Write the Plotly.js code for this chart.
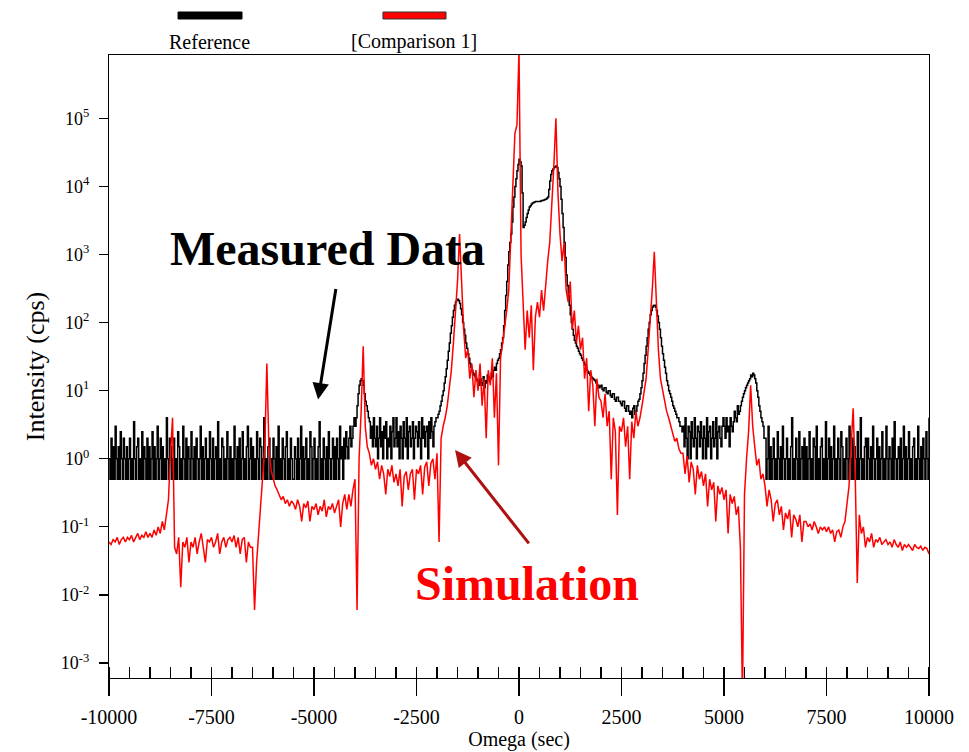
<!DOCTYPE html>
<html>
<head>
<meta charset="utf-8">
<script src="https://cdn.plot.ly/plotly-3.0.1.min.js"></script>
<style>html,body{margin:0;padding:0;background:#fff}#chart{width:969px;height:752px}</style>
</head>
<body>
<div id="chart"></div>
<script>
// Omega grids (sec)
const omegaStart = -10000;
const referenceStep = 25;
const comparisonStep = 50;

// Reference (measured) intensity, cps  (one row = 500 sec)
const referenceCps = [
1,0.5,2,0.5,1.5,0.5,3,1,0.5,1.5,0.5,2.5,1,0.5,2,1,0.5,1.5,0.5,1,
2,0.5,1,0.5,3.5,1,0.5,1.5,2,0.5,1,0.5,2.5,0.5,1.5,1,0.5,2,0.5,1.5,
0.5,1,2.5,0.5,1.5,0.5,1,3,0.5,1,2,0.5,1.5,0.5,1,0.5,4,1,0.5,2,
1.5,0.5,1,2,0.5,1,0.5,2.5,1.5,0.5,1,0.5,3,1,0.5,2,0.5,1.5,1,0.5,
2.5,1,0.5,1.5,0.5,2,1,0.5,1,3,0.5,1.5,0.5,1,2,0.5,1,0.5,2.5,1,
0.5,2,0.5,1,1.5,0.5,3.5,0.5,1,0.5,2,1.5,0.5,1,0.5,2.5,1,0.5,1.5,0.5,
1,0.5,3,1,0.5,1.5,0.5,2,0.5,1,2.5,0.5,1,0.5,1.5,3,0.5,1,2,0.5,
1.5,0.5,1,0.5,2.5,1,0.5,2,1.5,0.5,1,4,0.5,1,0.5,1.5,2,0.5,1,0.5,
2,1,0.5,1.5,0.5,3,0.5,1,0.5,2,1,0.5,1.5,2.5,0.5,1,0.5,2,1,0.5,
0.5,1.5,1,0.5,2,0.5,1,3,0.5,1.5,0.5,1,2,0.5,1,0.5,2.5,1.5,0.5,1,
2,0.5,1,0.5,1.5,3.5,0.5,1,0.5,2,1,0.5,1.5,0.5,2.5,1,0.5,1,2,0.5,
1.5,0.5,2,1,0.5,3,1,1.5,0.5,2,1,2.5,1.5,1,2,3,1.5,2,3,4,
3,4,6,9,12,14,15,14,12,9,7,6,5,4,3.5,2,3,1.5,4,2,
1.5,3,1,2,4,1.5,2.5,1,3,2,3.5,1,2,1.5,3,1,2.5,4,1.5,2,
4,1.5,2.5,1,3,2,1,3.5,2,1.5,4,1,2.5,3,1.5,2,3.5,1,2,3,
2.5,1.5,3.5,2,1,4,2,3,1.5,2.5,3,1,3.5,2,4,2.5,1.5,3,3.5,4,
4,4.5,5,6,7,8.5,10,13,16,21,28,38,50,70,90,120,150,180,200,215,
220,210,190,160,130,100,80,65,50,42,35,30,25,22,20,18,17,16,15,14,
14,12,15,13,12,16,11,14,13,17,16,14,15,18,16,20,22,20,25,28,
30,35,40,50,60,90,150,250,400,700,1100,1500,2000,3000,5000,7000,10000,13000,17000,21000,
25000,23000,20000,8000,2500,2700,3000,3500,4000,4500,5000,5200,5500,5700,5800,5900,6000,6000,6000,6000,
6000,6100,6200,6200,6300,6400,6500,6700,7000,9000,12000,15000,17000,18000,19000,19500,20000,19000,16000,13000,
10000,6500,4000,2500,1500,900,500,350,250,180,130,100,80,65,55,50,45,42,38,35,
33,30,28,26,24,22,20,19,18,17,16,15.5,15,14.5,14,13,12,12,11,11.5,
12,10.5,10,11,11,9.5,9,10,10,8.5,8,9,9,7.5,7,8,8,7,7,6.5,
6,7,7,5.5,5,6,6,5,4.5,5,4,5.5,6,4.5,5,6,7,7.5,9,11,
14,18,25,33,45,60,80,100,130,150,170,178,180,170,150,125,100,80,60,45,
35,28,22,18,14,12,10,9,8,7,6,5.5,5,4.5,4,4,3.5,3,3,2.5,
3,1.5,4,2,1,3,2.5,1,3.5,2,1.5,4,2,1,3,2.5,1.5,3.5,2,1,
3,2,1,4,1.5,2.5,3,1,2,3.5,1.5,2,4,1,2.5,3,2,1.5,3,4,
3,2,4,2.5,3,1.5,4,3,2.5,3.5,5,4,3.5,6,4.5,5,6,7,8,9,
10,11,12,13,14,15,17,16,18,17,15,13,10,8,6,5,4,3.5,3,2,
2,0.5,1,3,0.5,1.5,0.5,1,2,0.5,1,0.5,2.5,1,0.5,1.5,0.5,3,1,0.5,
1,2,0.5,1,0.5,1.5,4,0.5,1,0.5,2,1,0.5,2.5,0.5,1,1.5,0.5,2,0.5,
1.5,0.5,1,2.5,0.5,1,0.5,2,1.5,0.5,3,0.5,1,0.5,1.5,2,0.5,1,0.5,3.5,
0.5,1,2,0.5,1.5,0.5,1,3,0.5,1,0.5,2,1,0.5,2.5,1.5,0.5,1,0.5,2,
1,0.5,3,1,0.5,2,0.5,1.5,1,0.5,2.5,0.5,1,4,0.5,1,0.5,1.5,2,0.5,
2,1,0.5,1.5,0.5,3,1,0.5,1,2,0.5,1.5,0.5,1,2.5,0.5,1,0.5,3,1,
0.5,1.5,1,0.5,2,0.5,3.5,1,0.5,1,1.5,0.5,2,0.5,1,3,0.5,1.5,0.5,1,
2.5,0.5,1,0.5,1.5,2,0.5,1,0.5,3,1,0.5,1.5,0.5,2,1,0.5,2.5,1,0.5,
4
];

// [Comparison 1] (simulation) intensity, cps  (one row = 500 sec)
const comparisonCps = [
0.06,0.055,0.065,0.06,0.07,0.055,0.065,0.07,0.06,0.07,
0.065,0.075,0.06,0.07,0.08,0.065,0.075,0.07,0.085,0.07,
0.08,0.07,0.09,0.075,0.1,0.08,0.12,0.09,0.15,0.25,
1.2,4,0.05,0.04,0.07,0.013,0.06,0.05,0.07,0.03,
0.06,0.05,0.07,0.04,0.06,0.08,0.05,0.03,0.065,0.06,
0.07,0.05,0.06,0.08,0.04,0.06,0.07,0.05,0.065,0.07,
0.06,0.075,0.05,0.07,0.04,0.065,0.07,0.03,0.06,0.05,
0.05,0.006,0.03,0.08,0.3,0.6,1.5,25,1.5,0.7,
0.5,0.4,0.35,0.3,0.25,0.28,0.22,0.25,0.2,0.24,
0.22,0.18,0.25,0.2,0.12,0.22,0.19,0.24,0.12,0.2,
0.18,0.22,0.15,0.2,0.17,0.25,0.14,0.2,0.18,0.22,
0.16,0.2,0.25,0.1,0.22,0.3,0.18,0.3,0.2,0.35,
0.5,0.006,1,5,45,3,1.5,1.2,0.8,1,
0.7,0.9,0.5,0.8,0.6,0.3,0.7,0.55,0.8,0.45,
0.6,0.4,0.7,0.2,0.55,0.65,0.35,0.6,0.7,0.25,
0.7,0.6,0.8,0.3,0.75,0.9,0.4,0.85,1,0.5,
1.2,0.06,2,3,4,6,10,20,50,150,
400,2000,300,80,30,40,15,25,8,20,
10,25,6,15,2,20,12,30,4,18,
0.8,30,50,80,150,300,1500,8000,60000,80000,
1000000,1000,200,40,150,60,180,20,120,200,
120,300,150,400,800,1500,5000,20000,100000,8000,
2000,800,1500,300,200,400,80,150,50,90,
40,60,15,30,5,20,12,3,15,8,
7,4,9,3,5,0.5,4,2.5,0.15,3,
2.5,4,1.5,3,0.5,3.5,2,5,3,4,
6,10,15,40,100,300,1100,200,40,15,
10,7,5,4,3,2.5,1.8,2,1.4,1.2,
1.2,0.6,1.1,0.45,0.9,0.7,0.3,0.8,0.5,0.65,
0.4,0.6,0.2,0.5,0.35,0.45,0.12,0.4,0.3,0.38,
0.25,0.35,0.08,0.3,0.22,0.28,0.15,0.2,0.05,0.0003,
0.3,1,2.5,12,3,1.5,0.8,1,0.5,0.6,
0.4,0.2,0.35,0.25,0.12,0.22,0.25,0.15,0.2,0.09,
0.16,0.13,0.18,0.07,0.15,0.13,0.1,0.15,0.06,0.12,
0.12,0.1,0.11,0.09,0.12,0.1,0.08,0.1,0.09,0.1,
0.085,0.1,0.08,0.09,0.06,0.085,0.09,0.07,0.1,0.12,
0.2,0.4,1.5,5.5,0.6,0.015,0.15,0.08,0.1,0.05,
0.07,0.06,0.08,0.05,0.065,0.06,0.07,0.055,0.06,0.065,
0.055,0.06,0.05,0.065,0.055,0.05,0.06,0.045,0.055,0.05,
0.055,0.05,0.045,0.055,0.05,0.048,0.052,0.045,0.05,0.048,
0.04
];

const xTickVals = [-10000,-7500,-5000,-2500,0,2500,5000,7500,10000];
const xTickText = ['-10000','-7500','-5000','-2500','0','2500','5000','7500','10000'];
const yTickVals = [1e-3,1e-2,1e-1,1,10,100,1e3,1e4,1e5];
const yTickText = ['10<sup>-3</sup>','10<sup>-2</sup>','10<sup>-1</sup>','10<sup>0</sup>','10<sup>1</sup>','10<sup>2</sup>','10<sup>3</sup>','10<sup>4</sup>','10<sup>5</sup>'];

const omegaRef = referenceCps.map((_, i) => omegaStart + i * referenceStep);
const omegaCmp = comparisonCps.map((_, i) => omegaStart + i * comparisonStep);

const serif = '"Liberation Serif", "Times New Roman", serif';
const xRange = [-10000, 10000];
const yRange = [-3.22, 5.93];

const traces = [
  {x: omegaRef, y: referenceCps, type: 'scatter', mode: 'lines', name: 'Reference',
   line: {color: '#000000', width: 1.5, shape: 'hv'}, showlegend: false, hoverinfo: 'skip'},
  {x: omegaCmp, y: comparisonCps, type: 'scatter', mode: 'lines', name: '[Comparison 1]',
   line: {color: '#ff0000', width: 1.5}, showlegend: false, hoverinfo: 'skip'}
];

const layout = {
  width: 969, height: 752,
  margin: {l: 109, r: 40, t: 55, b: 74, pad: 0},
  paper_bgcolor: '#ffffff', plot_bgcolor: '#ffffff',
  font: {family: serif, color: '#000000', size: 18},
  showlegend: false,
  xaxis: {
    range: xRange, showgrid: false, zeroline: false,
    showline: true, linecolor: '#000', linewidth: 1.2, mirror: true,
    tickmode: 'array', tickvals: xTickVals, ticktext: xTickText,
    ticks: 'outside', ticklen: 17, tickwidth: 1.2, tickcolor: '#000',
    ticklabelstandoff: 4,
    minor: {tick0: 0, dtick: 500, ticks: 'inside', ticklen: 11, tickwidth: 1.2, tickcolor: '#000', showgrid: false},
    tickfont: {family: serif, size: 20},
    title: {text: 'Omega (sec)', font: {family: serif, size: 20}, standoff: 2}
  },
  xaxis2: {
    overlaying: 'x', anchor: 'y', side: 'bottom', range: xRange,
    showgrid: false, zeroline: false, showline: false,
    tickmode: 'array', tickvals: xTickVals, showticklabels: false,
    ticks: 'inside', ticklen: 15, tickwidth: 1.2, tickcolor: '#000'
  },
  yaxis: {
    type: 'log', range: yRange, showgrid: false, zeroline: false,
    showline: true, linecolor: '#000', linewidth: 1.2, mirror: true,
    tickmode: 'array', tickvals: yTickVals, ticktext: yTickText,
    ticks: 'outside', ticklen: 9, tickwidth: 1.2, tickcolor: '#000',
    ticklabelstandoff: 6,
    tickfont: {family: serif, size: 18},
    title: {text: 'Intensity (cps)', font: {family: serif, size: 26}, standoff: 8}
  },
  yaxis2: {
    overlaying: 'y', anchor: 'x', side: 'left', type: 'log', range: yRange,
    showgrid: false, zeroline: false, showline: false,
    tickmode: 'array', tickvals: yTickVals, showticklabels: false,
    ticks: 'inside', ticklen: 9, tickwidth: 1.2, tickcolor: '#000'
  },
  shapes: [
    {type: 'rect', xref: 'paper', yref: 'paper', x0: 0.0842, x1: 0.1622, y0: 1.0578, y1: 1.0690,
     fillcolor: '#000000', line: {color: '#000000', width: 1}},
    {type: 'rect', xref: 'paper', yref: 'paper', x0: 0.3341, x1: 0.4110, y0: 1.0578, y1: 1.0690,
     fillcolor: '#ff0000', line: {color: '#333333', width: 1}}
  ],
  annotations: [
    {xref: 'paper', yref: 'paper', x: 0.1220, y: 1.0209, text: 'Reference', showarrow: false,
     font: {family: serif, size: 20}, xanchor: 'center', yanchor: 'middle'},
    {xref: 'paper', yref: 'paper', x: 0.3720, y: 1.0209, text: '[Comparison 1]', showarrow: false,
     font: {family: serif, size: 20}, xanchor: 'center', yanchor: 'middle'},
    {xref: 'paper', yref: 'paper', x: 0.267, y: 0.690, text: '<b>Measured Data</b>', showarrow: false,
     font: {family: serif, size: 48, color: '#000000'}, xanchor: 'center', yanchor: 'middle'},
    {xref: 'paper', yref: 'paper', x: 0.510, y: 0.152, text: '<b>Simulation</b>', showarrow: false,
     font: {family: serif, size: 48, color: '#ff0000'}, xanchor: 'center', yanchor: 'middle'},
    {x: -4900, y: Math.log10(7.4), xref: 'x', yref: 'y', text: '', showarrow: true,
     arrowhead: 2, arrowsize: 1.1, arrowwidth: 3, arrowcolor: '#000000', ax: 18, ay: -112},
    {x: -1560, y: Math.log10(1.35), xref: 'x', yref: 'y', text: '', showarrow: true,
     arrowhead: 2, arrowsize: 1.1, arrowwidth: 3, arrowcolor: '#b01010', ax: 75, ay: 95}
  ]
};

Plotly.newPlot('chart', traces, layout, {displayModeBar: false, staticPlot: true});
</script>
</body>
</html>
